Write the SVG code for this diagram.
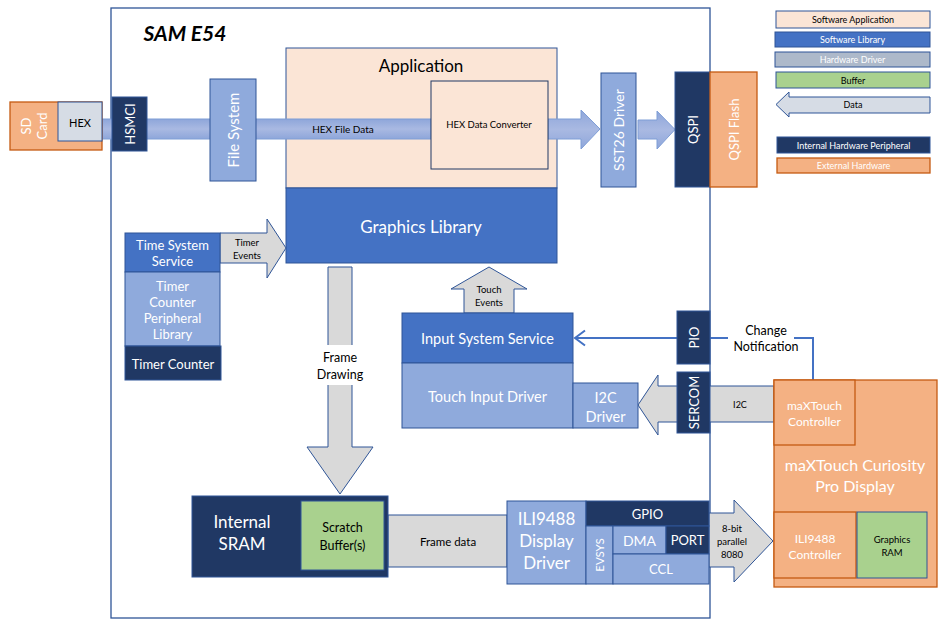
<svg xmlns="http://www.w3.org/2000/svg" width="941" height="624" viewBox="0 0 941 624">
<defs>
<linearGradient id="band" x1="0" y1="0" x2="0" y2="1">
<stop offset="0" stop-color="#8EA6DA"/>
<stop offset="0.5" stop-color="#A9B9E2"/>
<stop offset="1" stop-color="#8EA6DA"/>
</linearGradient>
<style>
text{font-family:Lato,"Liberation Sans",sans-serif;text-anchor:middle;dominant-baseline:central}
.w{fill:#FFFFFF}
.k{fill:#000000}
.app{fill:#FBE5D6;stroke:#2F5597;stroke-width:1}
.lib{fill:#4472C4;stroke:#2F5597;stroke-width:1}
.drv{fill:#8FAADC;stroke:#2F5597;stroke-width:1}
.hw{fill:#203864;stroke:#2F5597;stroke-width:1}
.ext{fill:#F4B183;stroke:#C55A11;stroke-width:1.3}
.buf{fill:#A9D18E;stroke:#2F5597;stroke-width:1}
.gray{fill:#D9D9D9;stroke:#2F5597;stroke-width:1}
.hexb{fill:url(#band);stroke:#7F9ED6;stroke-width:1}
</style>
</defs>
<rect width="941" height="624" fill="#FFFFFF"/>

<g id="sam-e54">
<rect x="111" y="8" width="599" height="610" fill="#FFFFFF" stroke="#2F5597" stroke-width="1.3"/>
<text x="185" y="32" style="font-size:21px;font-weight:bold;font-style:italic" class="k">SAM E54</text>
</g>

<g id="application">
<rect class="app" x="286" y="48" width="271" height="140"/>
<text x="421" y="65" style="font-size:17px" class="k">Application</text>
</g>
<g id="graphics-library">
<rect class="lib" x="286" y="188" width="271" height="75"/>
<text x="421" y="226" style="font-size:17px" class="w">Graphics Library</text>
</g>

<g id="connectors">
<rect class="hexb" x="102" y="119" width="329" height="20"/>
<text x="343" y="129" style="font-size:10px" class="k">HEX File Data</text>
<polygon class="hexb" points="548,119 581,119 581,110 600,129 581,149 581,139 548,139"/>
<polygon class="hexb" points="638,120 657,120 657,111 675,129.5 657,149 657,139 638,139"/>
<polygon class="gray" points="220,233 267,233 267,219 286,248 267,278 267,263 220,263"/>
<text x="247" y="242" style="font-size:9.5px" class="k">Timer</text>
<text x="247" y="255" style="font-size:9.5px" class="k">Events</text>
<polygon class="gray" points="328,267 352,267 352,447 373,447 340,494 307,447 328,447"/>
<rect x="316" y="345" width="48" height="40" fill="#FFFFFF"/>
<text x="340" y="357" style="font-size:12.5px" class="k">Frame</text>
<text x="340" y="374" style="font-size:12.5px" class="k">Drawing</text>
<polygon class="gray" points="464,313 464,289 451,289 489,267 527,289 514,289 514,313"/>
<text x="489" y="289" style="font-size:9.5px" class="k">Touch</text>
<text x="489" y="302" style="font-size:9.5px" class="k">Events</text>
<rect class="gray" x="388" y="515" width="119" height="52"/>
<text x="448" y="541" style="font-size:11.5px" class="k">Frame data</text>
<polygon class="gray" points="709,513 734,513 734,500 773,541 734,582 734,567 709,567"/>
<text x="732" y="528" style="font-size:9.5px" class="k">8-bit</text>
<text x="732" y="541" style="font-size:9.5px" class="k">parallel</text>
<text x="732" y="554" style="font-size:9.5px" class="k">8080</text>
<polygon class="gray" points="774,386 658,386 658,375 638,405 658,435 658,422 774,422"/>
<text x="740" y="404" style="font-size:9px" class="k">I2C</text>
<line x1="677" y1="338" x2="575" y2="338" stroke="#4472C4" stroke-width="2"/>
<polyline points="585,330.5 575,338 585,345.5" fill="none" stroke="#4472C4" stroke-width="2"/>
<polyline points="710,338 813,338 813,380" fill="none" stroke="#4472C4" stroke-width="2"/>
<rect x="728" y="321" width="66" height="34" fill="#FFFFFF"/>
<text x="766" y="330" style="font-size:12.5px" class="k">Change</text>
<text x="766" y="346" style="font-size:12.5px" class="k">Notification</text>
</g>

<g id="sd-card">
<rect class="ext" x="10" y="102" width="92" height="48"/>
<text transform="rotate(-90 34 126)" x="34" y="126" style="font-size:13px" class="w"><tspan x="34" dy="-8">SD</tspan><tspan x="34" dy="16">Card</tspan></text>
</g>
<g id="hex">
<rect x="58" y="102" width="44" height="39" fill="#D6DCE5" stroke="#2F5597" stroke-width="1"/>
<text x="80" y="122" style="font-size:11px" class="k">HEX</text>
</g>
<g id="hsmci">
<rect class="hw" x="112" y="97" width="35" height="54"/>
<text transform="rotate(-90 129.5 124)" x="129.5" y="124" style="font-size:13px" class="w">HSMCI</text>
</g>
<g id="file-system">
<rect class="drv" x="210" y="79" width="46" height="102"/>
<text transform="rotate(-90 233 130)" x="233" y="130" style="font-size:15px" class="w">File System</text>
</g>
<g id="hex-data-converter">
<rect x="431" y="81" width="117" height="88" fill="#FBE5D6" stroke="#203864" stroke-width="1"/>
<text x="489" y="124" style="font-size:9.5px" class="k">HEX Data Converter</text>
</g>
<g id="sst26-driver">
<rect class="drv" x="601" y="73" width="35" height="114"/>
<text transform="rotate(-90 618.5 130)" x="618.5" y="130" style="font-size:14px" class="w">SST26 Driver</text>
</g>
<g id="qspi">
<rect class="hw" x="675" y="72" width="35" height="115"/>
<text transform="rotate(-90 692.5 129.5)" x="692.5" y="129.5" style="font-size:13px" class="w">QSPI</text>
</g>
<g id="qspi-flash">
<rect class="ext" x="710" y="72" width="47" height="115"/>
<text transform="rotate(-90 733.5 129.5)" x="733.5" y="129.5" style="font-size:13px" class="w">QSPI Flash</text>
</g>

<g id="time-system-service">
<rect class="lib" x="125" y="233" width="95" height="39"/>
<text x="172.5" y="245" style="font-size:13px" class="w">Time System</text>
<text x="172.5" y="261" style="font-size:13px" class="w">Service</text>
</g>
<g id="timer-counter-plib">
<rect class="drv" x="125" y="272" width="95" height="74"/>
<text x="172.5" y="286" style="font-size:13px" class="w">Timer</text>
<text x="172.5" y="302" style="font-size:13px" class="w">Counter</text>
<text x="172.5" y="318" style="font-size:13px" class="w">Peripheral</text>
<text x="172.5" y="334" style="font-size:13px" class="w">Library</text>
</g>
<g id="timer-counter">
<rect class="hw" x="125" y="346" width="96" height="34"/>
<text x="173" y="364" style="font-size:13px" class="w">Timer Counter</text>
</g>

<g id="input-system-service">
<rect class="lib" x="402" y="313" width="171" height="50"/>
<text x="487.5" y="338" style="font-size:14.5px" class="w">Input System Service</text>
</g>
<g id="touch-input-driver">
<rect class="drv" x="402" y="363" width="171" height="65"/>
<text x="487.5" y="396" style="font-size:14.5px" class="w">Touch Input Driver</text>
</g>
<g id="i2c-driver">
<rect class="drv" x="573" y="383" width="65" height="45"/>
<text x="605.5" y="397" style="font-size:14.5px" class="w">I2C</text>
<text x="605.5" y="416" style="font-size:14.5px" class="w">Driver</text>
</g>
<g id="pio">
<rect class="hw" x="677" y="311" width="33" height="53"/>
<text transform="rotate(-90 693.5 337.5)" x="693.5" y="337.5" style="font-size:13px" class="w">PIO</text>
</g>
<g id="sercom">
<rect class="hw" x="677" y="372" width="33" height="61"/>
<text transform="rotate(-90 693.5 402.5)" x="693.5" y="402.5" style="font-size:13px" class="w">SERCOM</text>
</g>

<g id="internal-sram">
<rect class="hw" x="192" y="496" width="196" height="81"/>
<text x="242" y="521" style="font-size:17px" class="w">Internal</text>
<text x="242" y="543" style="font-size:17px" class="w">SRAM</text>
</g>
<g id="scratch-buffers">
<rect class="buf" x="301" y="501" width="83" height="69"/>
<text x="342.5" y="527" style="font-size:12.5px" class="k">Scratch</text>
<text x="342.5" y="545" style="font-size:12.5px" class="k">Buffer(s)</text>
</g>

<g id="ili9488-display-driver">
<rect class="drv" x="507" y="501" width="79" height="83"/>
<text x="546.5" y="518" style="font-size:17px" class="w">ILI9488</text>
<text x="546.5" y="540" style="font-size:17px" class="w">Display</text>
<text x="546.5" y="562" style="font-size:17px" class="w">Driver</text>
</g>
<g id="gpio">
<rect class="hw" x="586" y="501" width="123" height="25"/>
<text x="647.5" y="513.5" style="font-size:13px" class="w">GPIO</text>
</g>
<g id="evsys">
<rect class="drv" x="586" y="526" width="27" height="58"/>
<text transform="rotate(-90 599.5 555)" x="599.5" y="555" style="font-size:11.5px" class="w">EVSYS</text>
</g>
<g id="dma">
<rect class="drv" x="613" y="526" width="53" height="28"/>
<text x="639.5" y="540.5" style="font-size:14px" class="w">DMA</text>
</g>
<g id="port">
<rect class="hw" x="666" y="526" width="43" height="28"/>
<text x="687.5" y="540" style="font-size:13px" class="w">PORT</text>
</g>
<g id="ccl">
<rect class="drv" x="613" y="554" width="96" height="30"/>
<text x="661" y="569" style="font-size:13px" class="w">CCL</text>
</g>

<g id="maxtouch-display">
<rect class="ext" x="774" y="380" width="163" height="207"/>
<text x="855" y="464" style="font-size:16px" class="w">maXTouch Curiosity</text>
<text x="855" y="485" style="font-size:16px" class="w">Pro Display</text>
</g>
<g id="maxtouch-controller">
<rect class="ext" x="774" y="380" width="81" height="65"/>
<text x="814.5" y="405" style="font-size:12px" class="w">maXTouch</text>
<text x="814.5" y="421" style="font-size:12px" class="w">Controller</text>
</g>
<g id="ili9488-controller">
<rect class="ext" x="774" y="512" width="82" height="66"/>
<text x="815" y="538" style="font-size:12px" class="w">ILI9488</text>
<text x="815" y="554" style="font-size:12px" class="w">Controller</text>
</g>
<g id="graphics-ram">
<rect class="buf" x="857" y="512" width="70" height="66"/>
<text x="892" y="539" style="font-size:9.5px" class="k">Graphics</text>
<text x="892" y="552" style="font-size:9.5px" class="k">RAM</text>
</g>

<g id="legend">
<rect class="app" x="776" y="11" width="154" height="17"/>
<text x="853" y="19.5" style="font-size:9px" class="k">Software Application</text>
<rect class="lib" x="775" y="32" width="155" height="15"/>
<text x="852.5" y="39.5" style="font-size:9px" class="w">Software Library</text>
<rect x="775" y="52" width="155" height="15" fill="#ADB9CA" stroke="#2F5597" stroke-width="1"/>
<text x="852.5" y="59.5" style="font-size:9px" class="w">Hardware Driver</text>
<rect class="buf" x="776" y="72" width="154" height="16"/>
<text x="853" y="80" style="font-size:9px" class="k">Buffer</text>
<polygon points="930,97 789,97 789,92 776,104.5 789,117 789,113 930,113" fill="#D6DCE5" stroke="#2F5597" stroke-width="1"/>
<text x="853" y="104" style="font-size:9px" class="k">Data</text>
<rect class="hw" x="777" y="137" width="153" height="16"/>
<text x="853.5" y="145" style="font-size:9px" class="w">Internal Hardware Peripheral</text>
<rect class="ext" x="777" y="158" width="153" height="15"/>
<text x="853.5" y="165.5" style="font-size:9px" class="w">External Hardware</text>
</g>
</svg>
